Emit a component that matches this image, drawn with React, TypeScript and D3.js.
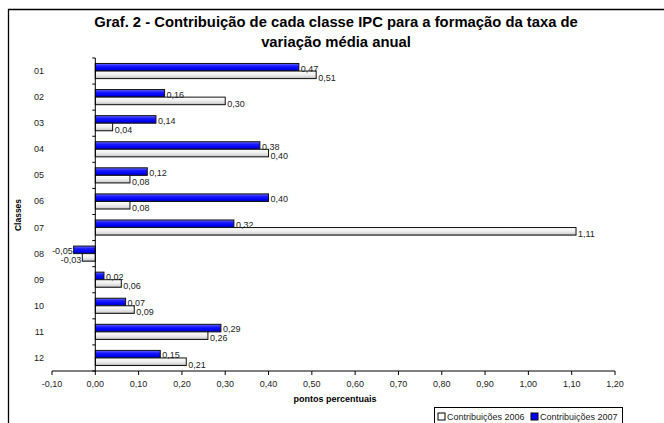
import React from "react";
import * as d3 from "d3";

const classes = ["01", "02", "03", "04", "05", "06", "07", "08", "09", "10", "11", "12"];
const contrib2006 = [0.51, 0.3, 0.04, 0.4, 0.08, 0.08, 1.11, -0.03, 0.06, 0.09, 0.26, 0.21];
const contrib2007 = [0.47, 0.16, 0.14, 0.38, 0.12, 0.4, 0.32, -0.05, 0.02, 0.07, 0.29, 0.15];
const xTicks = [-0.1, 0, 0.1, 0.2, 0.3, 0.4, 0.5, 0.6, 0.7, 0.8, 0.9, 1.0, 1.1, 1.2];

const fmt = (v: number) => v.toFixed(2).replace(".", ",");
const font = "Arial, 'Liberation Sans', sans-serif";

export default function App() {
  const width = 664;
  const height = 423;

  const x = d3.scaleLinear().domain([-0.1, 1.2]).range([52, 615]);
  const y = d3.scaleBand().domain(classes).range([58, 371]).paddingInner(0.42).paddingOuter(0.21);
  const half = y.bandwidth() / 2;

  const bars = classes.map((c, i) => ({ c, v06: contrib2006[i], v07: contrib2007[i] }));

  return (
    <svg width={width} height={height} style={{ position: "absolute", left: 0, top: 0 }} fontFamily={font}>
      <defs>
        <linearGradient id="gBlue" x1="0" y1="0" x2="0" y2="1">
          <stop offset="0" stopColor="#6a6aff" />
          <stop offset="0.35" stopColor="#1a1aff" />
          <stop offset="0.75" stopColor="#0000f0" />
          <stop offset="1" stopColor="#0000a8" />
        </linearGradient>
        <linearGradient id="gGrey" x1="0" y1="0" x2="0" y2="1">
          <stop offset="0" stopColor="#ffffff" />
          <stop offset="0.45" stopColor="#f0f0f0" />
          <stop offset="0.8" stopColor="#d8d8d8" />
          <stop offset="1" stopColor="#a0a0a0" />
        </linearGradient>
      </defs>
      <rect width={width} height={height} fill="#fff" />
      {/* chart frame */}
      <path d={`M8.5,${height + 2} V9.5 H${width + 2}`} fill="none" stroke="#000" strokeWidth={1.3} />

      <text x={336} y={27} textAnchor="middle" fontSize={14.8} fontWeight="bold">
        Graf. 2 - Contribuição de cada classe IPC para a formação da taxa de
      </text>
      <text x={336} y={47} textAnchor="middle" fontSize={14.8} fontWeight="bold">
        variação média anual
      </text>

      {bars.map((d) => {
        const top = y(d.c)!;
        const x0 = x(0);
        const b7 = [Math.min(x0, x(d.v07)), Math.abs(x(d.v07) - x0)];
        const b6 = [Math.min(x0, x(d.v06)), Math.abs(x(d.v06) - x0)];
        return (
          <g key={d.c}>
            <rect x={b7[0]} y={top} width={b7[1]} height={half} fill="url(#gBlue)" stroke="#111" strokeWidth={1} />
            <rect x={b6[0]} y={top + half} width={b6[1]} height={half} fill="url(#gGrey)" stroke="#111" strokeWidth={1} />
            <text
              x={d.v07 < 0 ? x(d.v07) - 1 : x(d.v07) + 2}
              y={top + half + 0.5}
              textAnchor={d.v07 < 0 ? "end" : "start"}
              fontSize={9}
              fill="#222"
            >
              {fmt(d.v07)}
            </text>
            <text
              x={d.v06 < 0 ? x(d.v06) - 1 : x(d.v06) + 2}
              y={top + 2 * half + 2}
              textAnchor={d.v06 < 0 ? "end" : "start"}
              fontSize={9}
              fill="#222"
            >
              {fmt(d.v06)}
            </text>
            <text x={44} y={top + half + 3} textAnchor="end" fontSize={9} fill="#222">
              {d.c}
            </text>
          </g>
        );
      })}

      {/* y axis */}
      <line x1={x(0)} x2={x(0)} y1={58} y2={371} stroke="#000" />
      {d3.range(classes.length + 1).map((i) => {
        const yy = 58 + (i * (371 - 58)) / classes.length;
        return <line key={i} x1={x(0) - 3} x2={x(0)} y1={yy} y2={yy} stroke="#000" />;
      })}

      {/* x axis */}
      <line x1={x(-0.1)} x2={x(1.2)} y1={371} y2={371} stroke="#000" />
      {xTicks.map((t) => (
        <g key={t}>
          <line x1={x(t)} x2={x(t)} y1={371} y2={375} stroke="#000" />
          <text x={x(t)} y={387} textAnchor="middle" fontSize={9} fill="#222">
            {fmt(t)}
          </text>
        </g>
      ))}

      <text x={335} y={402} textAnchor="middle" fontSize={9} fontWeight="bold">
        pontos percentuais
      </text>
      <text transform="translate(21,215) rotate(-90)" textAnchor="middle" fontSize={8.5} fontWeight="bold">
        Classes
      </text>

      {/* legend */}
      <rect x={434.5} y={407.5} width={188} height={20} fill="#fff" stroke="#000" />
      <rect x={438} y={413} width={7} height={7} fill="#fff" stroke="#000" />
      <text x={447} y={420} fontSize={9} fill="#222">Contribuições 2006</text>
      <rect x={531} y={413} width={7} height={7} fill="#0000ff" stroke="#000" />
      <text x={540} y={420} fontSize={9} fill="#222">Contribuições 2007</text>
    </svg>
  );
}
